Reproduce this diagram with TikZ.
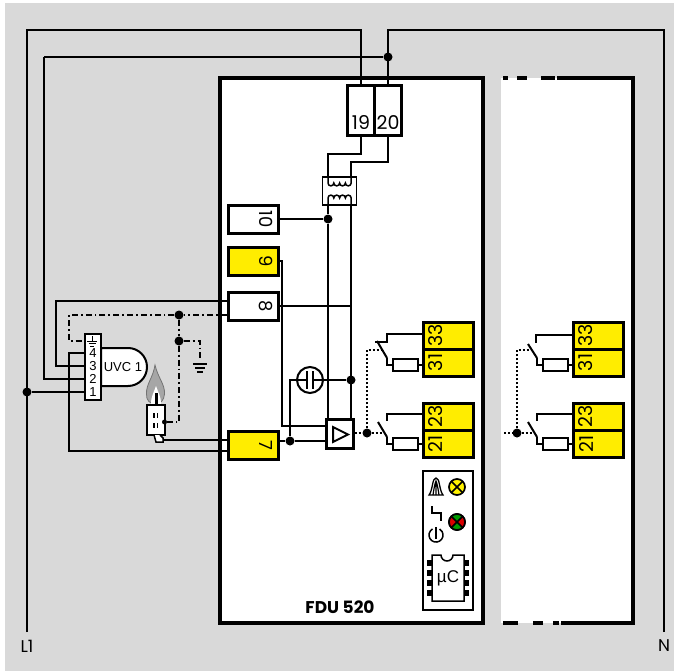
\documentclass[tikz,border=0pt]{standalone}
\usepackage{fontspec}
\setmainfont{Poppins}
\newfontfamily\arialfont{Liberation Sans}
\usetikzlibrary{calc}
\definecolor{bggray}{HTML}{D9D9D9}
\definecolor{termyellow}{HTML}{FFED00}
\definecolor{flamegray}{HTML}{A6A6A6}
\tikzset{
  wire/.style={line width=2pt},
  dashdot/.style={line width=1.8pt, dash pattern=on 6pt off 3pt on 1.8pt off 3pt},
  dots/.style={line width=1.8pt, dash pattern=on 2pt off 2pt},
  term/.style={draw, line width=3pt, minimum width=50pt, minimum height=28pt, inner sep=0pt},
  dot/.style={circle, fill=black, inner sep=0pt, minimum size=9pt},
  fuse/.style={draw, fill=white, line width=1.5pt, minimum width=25pt, minimum height=12pt, inner sep=0pt},
  txt/.style={inner sep=0pt, font=\fontsize{18}{18}\selectfont},
  pin/.style={inner sep=0pt, font=\arialfont\fontsize{13}{13}\selectfont}
}
\begin{document}
\begin{tikzpicture}[x=1pt,y=-1pt]
\useasboundingbox (0,0) rectangle (674,671);
\fill[bggray] (5,3) rectangle (674,671);
% housing
\draw[fill=white, line width=3.5pt] (220,78) rectangle (483,623);
\fill[white] (501,78) rectangle (633,623);
\draw[line width=3.5pt] (503,78)--(508,78) (517,78)--(527,78) (541,78)--(555,78) (557,78)--(633,78)--(633,623)--(561,623)
  (559,623)--(553,623) (543,623)--(533,623) (518,623)--(503,623);
\node[font=\bfseries\fontsize{17}{17}\selectfont, inner sep=0pt] (fdu) at (340,607) {FDU 520};
% terminals on top
\node[draw, fill=white, line width=3pt, minimum width=27pt, minimum height=50pt, inner sep=0pt] (t19) at (361,111) {};
\node[draw, fill=white, line width=3pt, minimum width=27pt, minimum height=50pt, inner sep=0pt] (t20) at (388,111) {};
\node[txt, font=\fontsize{19}{19}\selectfont] (lab19) at (361,123) {19};
\node[txt, font=\fontsize{19}{19}\selectfont] (lab20) at (388,123) {20};
% left terminals
\node[term, fill=white] (t10) at (253,219) {};
\node[term, fill=termyellow] (t9) at (253,261) {};
\node[term, fill=white] (t8) at (253,306) {};
\node[term, fill=termyellow] (t7) at (253,445) {};
\foreach \n/\y in {10/219,9/261,8/306,7/445}{
  \node[txt, rotate=-90] (lab\n) at (266,\y) {\n};
}
% mains
\node[inner sep=0pt, font=\fontsize{17}{17}\selectfont] (l1) at (27,646) {L1};
\node[inner sep=0pt, font=\fontsize{17}{17}\selectfont] (n) at (664,646) {N};
\coordinate (l1end) at (27,632);
\coordinate (nend) at (664,632);
\coordinate (l1top) at (27,30);
\coordinate (ntop) at (664,30);
\node[dot] (d20) at (388,57) {};
\node[dot] (dl1) at (27,392) {};
\draw[wire] (l1end)--(l1top)-|(t19.north);
\draw[wire] (nend)--(ntop)-|(t20.north);
\coordinate (nwire) at (44,57);
% UVC
\draw[fill=white, line width=2pt] (101,348)--(128,348) arc[start angle=90, end angle=-90, radius=19pt]--(101,386)--cycle;
\node[pin] (uvc) at (123,367) {UVC 1};
\node[draw, fill=white, line width=2pt, minimum width=16pt, minimum height=66pt, inner sep=0pt] (strip) at (93,367) {};
\foreach \p/\y in {4/353,3/366,2/379,1/392}{
  \node[pin] (pin\p) at (93,\y) {\p};
  \coordinate (w\p) at (85,\y);
}
\coordinate (wg) at (85,341);
\draw[line width=1pt] (92,336)--(92,341) (87,341)--(97,341) (88.5,343.5)--(95.5,343.5) (90,346)--(94,346);
\draw[wire] (nwire)--(d20) (nwire)|-(w2);
\draw[wire] (dl1)--(w1);
\draw[wire] (t8.west|-0,301)-|(56,366)--(w3);
\draw[wire] (w4)-|(69,451)--(t7.west|-0,451);
% flame and candle
\draw[fill=flamegray, draw=black!55, line width=0.8pt] (155,365) .. controls (158,378) and (165,384) .. (164.5,394) .. controls (164,400) and (161,404) .. (155,404) .. controls (150,404) and (146,400) .. (146.5,394) .. controls (146,384) and (153,378) .. (155,365)--cycle;
\fill[white] (156,386) .. controls (158,392) and (161,396) .. (161,404)--(151,404) .. controls (151,396) and (154,392) .. (156,386)--cycle;
\draw[line width=3.5pt] (156.5,404)--(156.5,393);
\node[draw, fill=white, line width=2pt, minimum width=18pt, minimum height=30pt, inner sep=0pt] (candle) at (156,420) {};
\draw[line width=1.2pt] (154,413)--(154,418) (157.5,413)--(157.5,418) (154,423)--(154,428) (157.5,423)--(157.5,428);
\draw[fill=white, line width=1.5pt] (154,435)--(156,442)--(163,442)--(163,438)--(160,435);
\coordinate (cbase) at (163,440);
\draw[wire] (cbase)--(t7.west|-cbase);
% earth wiring
\node[dot] (d1) at (179,315) {};
\node[dot] (d2) at (179,341) {};
\node[dot, minimum size=5pt] (dc) at (164.5,422) {};
\draw[dashdot] (t8.west|-d1)--(d1)--(69,315)--(69,341)--(wg);
\draw[dashdot] (d1)--(d2)--(179,422)--(dc);
\draw[dashdot] (d2)--(200,341)--(200,361);
\coordinate (gnd) at (200,364);
\draw[line width=1.7pt] (gnd)++(-7,0)--++(14,0) (gnd)++(-5,4)--++(10,0) (gnd)++(-3,8)--++(6,0);
% transformer
\node[draw, line width=1.5pt, minimum width=34pt, minimum height=28pt, inner sep=0pt, fill=white] (trafo) at (339.5,191) {};
\coordinate (tra) at (328,177);
\coordinate (trb) at (351,177);
\draw[wire] (t19.south)|-(328,154)--(tra);
\draw[wire] (t20.south)|-(351,162)--(trb);
\draw[line width=1.5pt] (328,177)--(328,183) arc[start angle=180,end angle=360,radius=2.9pt] arc[start angle=180,end angle=360,radius=2.9pt] arc[start angle=180,end angle=360,radius=2.9pt] arc[start angle=180,end angle=360,radius=2.9pt]--(351,177);
\draw[line width=1.5pt] (328,205)--(328,198) arc[start angle=180,end angle=0,radius=2.9pt] arc[start angle=180,end angle=0,radius=2.9pt] arc[start angle=180,end angle=0,radius=2.9pt] arc[start angle=180,end angle=0,radius=2.9pt]--(351,205);
% amplifier
\node[draw, fill=white, line width=3pt, minimum width=27pt, minimum height=29pt, inner sep=0pt] (amp) at (339.5,433.5) {};
\draw[line width=2pt] (333,427)--(348,434.5)--(333,442)--cycle;
\node[dot] (d10) at (328,219) {};
\node[dot] (dc2) at (351,380) {};
\node[dot] (d7) at (290,441) {};
\coordinate (tb) at (328,205);
\coordinate (tc) at (351,205);
\draw[wire] (tb)--(d10)--(328,419);
\draw[wire] (tc)--(351,419);
\draw[wire] (t10.east)--(d10);
\draw[wire] (t8.east)--(351,306);
\draw[wire] (t9.east)-|(282,426)--(326,426);
\draw[wire] (t7.east|-d7)--(d7)--(326,441);
% capacitor
\node[draw, circle, fill=white, line width=2pt, minimum size=26pt, inner sep=0pt] (cap) at (310,380) {};
\draw[wire] (d7)--(290,380)--(307,380) (313,380)--(dc2);
\draw[wire] (307,371)--(307,389) (313,371)--(313,389);
% relay contacts
\foreach \u/\ox in {a/0,b/150}{
  \node[term, fill=termyellow, minimum height=27pt] (t33\u) at (448+\ox,335.5) {};
  \node[term, fill=termyellow, minimum height=27pt] (t31\u) at (448+\ox,362.5) {};
  \node[term, fill=termyellow, minimum height=27pt] (t23\u) at (448+\ox,416.5) {};
  \node[term, fill=termyellow, minimum height=27pt] (t21\u) at (448+\ox,443.5) {};
  \foreach \t/\y in {33/335.5,31/362.5,23/416.5,21/443.5}{
    \node[txt, rotate=90, font=\fontsize{19}{19}\selectfont] (lab\t\u) at (436+\ox,\y) {\t};
  }
  \node[fuse] (f3\u) at (405.5+\ox,365) {};
  \node[fuse] (f2\u) at (405.5+\ox,444) {};
  \draw[wire] (t31\u.west|-f3\u)--(f3\u)--(387+\ox,365)--(387+\ox,358);
  \draw[wire] (t21\u.west|-f2\u)--(f2\u)--(387+\ox,444)--(387+\ox,437);
  \draw[wire] (t23\u.west|-0,414)--(387+\ox,414)--(387+\ox,421);
}
% channel one
\draw[wire] (t33a.west|-0,334)--(387,334)--(387,342)--(375,342);
\draw[wire] (377,341)--(387,358);
\draw[wire] (378,422)--(387,437);
\node[dot] (d11) at (367,433) {};
\coordinate (sw1) at (382,350);
\coordinate (sw2) at (383,433);
\draw[dots] (amp.east|-d11)--(d11)--(sw2);
\draw[dots] (d11)--(367,350)--(sw1);
% channel two
\draw[wire] (t33b.west|-0,335)--(536,335)--(536,343);
\draw[wire] (528,344)--(537,358);
\draw[wire] (528,422)--(537,437);
\node[dot] (d12) at (517,433) {};
\coordinate (sw3) at (532,350);
\coordinate (sw4) at (533,433);
\coordinate (sw5) at (504,433);
\draw[dots] (sw5)--(d12)--(sw4);
\draw[dots] (d12)--(517,350)--(sw3);
% status panel
\node[draw, fill=white, line width=2.5pt, minimum width=50pt, minimum height=139pt, inner sep=0pt] (panel) at (448,540.5) {};
\draw[line width=1.3pt] (429,495) .. controls (433,490) and (432,478) .. (436,478) .. controls (440,478) and (439,490) .. (443,495)--cycle;
\draw[line width=1.2pt] (433,495) .. controls (434,488) and (435,483) .. (436,481) .. controls (437,483) and (438,488) .. (439,495) (436,481)--(436,495);
\draw[line width=1.5pt] (432,506)--(432,513)--(441,513)--(441,521);
\draw[line width=1.5pt] (432.5,529) arc[start angle=120, end angle=420, radius=7pt];
\draw[line width=1.5pt] (436,527)--(436,539);
% lamps
\node[circle, fill=yellow, draw, line width=1.7pt, minimum size=16pt, inner sep=0pt] (lampy) at (457,487) {};
\draw[line width=1.5pt] (451.5,481.5)--(462.5,492.5) (451.5,492.5)--(462.5,481.5);
\node[circle, draw, line width=1.7pt, minimum size=16pt, inner sep=0pt] (lampg) at (457,522) {};
\fill[green!60!black] (457,522)--(451.3,516.3) arc[start angle=135,end angle=45,radius=8pt]--cycle;
\fill[green!60!black] (457,522)--(451.3,527.7) arc[start angle=225,end angle=315,radius=8pt]--cycle;
\fill[red!85!black] (457,522)--(451.3,516.3) arc[start angle=135,end angle=225,radius=8pt]--cycle;
\fill[red!85!black] (457,522)--(462.7,516.3) arc[start angle=45,end angle=-45,radius=8pt]--cycle;
\draw[line width=1.7pt] (lampg) circle (8pt);
\draw[line width=1.5pt] (451.3,516.3)--(462.7,527.7) (451.3,527.7)--(462.7,516.3);
% chip
\foreach \y in {563,573,583,593}{
  \fill (427,\y-3) rectangle (432,\y+3);
  \fill (464,\y-3) rectangle (469,\y+3);
}
\draw[line width=1.5pt] (432,555)--(441,555) arc[start angle=180,end angle=360,radius=6pt]--(464,555)--(464,601)--(432,601)--cycle;
\node[inner sep=0pt, font=\arialfont\fontsize{17}{17}\selectfont] (chip) at (448,578) {µC};
\end{tikzpicture}
\end{document}
